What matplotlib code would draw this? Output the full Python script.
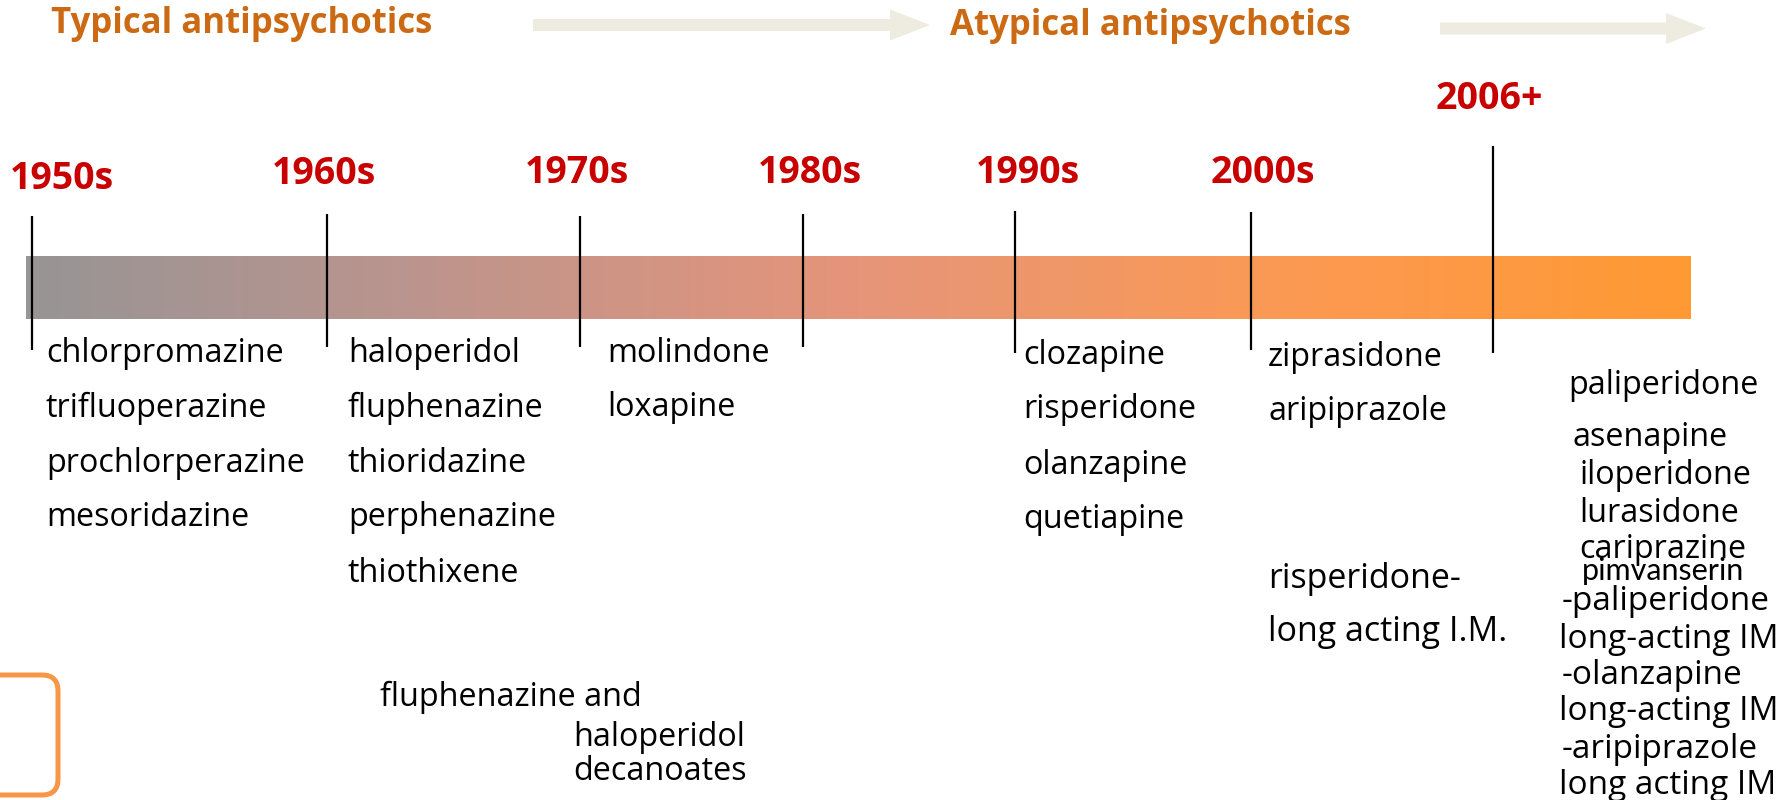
"""
Timeline of antipsychotic drug introductions, typical -> atypical.
"""
import matplotlib
matplotlib.use("Agg")
import matplotlib.pyplot as plt
import numpy as np
from matplotlib.colors import LinearSegmentedColormap
from matplotlib.patches import FancyArrow, FancyBboxPatch

W, H = 1786, 800

# ---- data -----------------------------------------------------------------
CLASSES = ["Typical antipsychotics", "Atypical antipsychotics"]
ERAS = ["1950s", "1960s", "1970s", "1980s", "1990s", "2000s", "2006+"]

DRUGS_1950 = ["chlorpromazine", "trifluoperazine", "prochlorperazine", "mesoridazine"]
DRUGS_1960 = ["haloperidol", "fluphenazine", "thioridazine", "perphenazine", "thiothixene"]
DRUGS_1970 = ["molindone", "loxapine"]
DRUGS_1990 = ["clozapine", "risperidone", "olanzapine", "quetiapine"]
DRUGS_2000 = ["ziprasidone", "aripiprazole"]
DRUGS_2006 = ["paliperidone", "asenapine", "iloperidone", "lurasidone", "cariprazine"]
EXTRA_2006 = "pimvanserin"

DEPOT_1960 = ["fluphenazine and", "haloperidol", "decanoates"]
DEPOT_2000 = ["risperidone-", "long acting I.M."]
DEPOT_2006 = ["-paliperidone", "long-acting IM", "-olanzapine",
              "long-acting IM", "-aripiprazole", "long acting IM"]

# ---- layout (pixels, y down) -----------------------------------------------
ERA_X = [32, 327, 580, 803, 1015, 1251, 1493]
ERA_TOP = [216, 214, 216, 214, 211, 212, 146]
ERA_BOT = [350, 347, 347, 347, 353, 350, 353]
ERA_LABEL = [(10, 179), (272, 174), (525, 173), (758, 173), (976, 173), (1211, 173), (1436, 99)]

BAR_X0, BAR_X1, BAR_Y0, BAR_Y1 = 26, 1691, 256, 319
BAR_STOPS = [(0.0, "#979595"), (0.225, "#BB948E"), (0.5, "#E6957A"),
             (0.77, "#FC9A52"), (1.0, "#FF9933")]

ORANGE_TXT = "#CC6A14"
RED = "#C80000"
ARROW = "#EEEBE0"

BODY = "Open Sans"
BODY_SIZE = 23.3

fig = plt.figure(figsize=(W / 100, H / 100), dpi=100)
ax = fig.add_axes([0, 0, 1, 1])
ax.set_xlim(0, W)
ax.set_ylim(H, 0)
ax.axis("off")

# headers + arrows
ax.text(51, 24, CLASSES[0], fontsize=25, fontweight="bold", color=ORANGE_TXT,
        family=BODY, va="center", ha="left")
ax.text(950, 26, CLASSES[1], fontsize=25, fontweight="bold", color=ORANGE_TXT,
        family=BODY, va="center", ha="left")
for x0, x1, y in [(533, 930, 25), (1440, 1706, 28.5)]:
    ax.add_patch(FancyArrow(x0, y, x1 - x0, 0, width=12, head_width=31, head_length=40,
                            length_includes_head=True, color=ARROW, lw=0))

# gradient bar
cmap = LinearSegmentedColormap.from_list("era", BAR_STOPS)
grad = np.linspace(0, 1, 512)[None, :]
ax.imshow(grad, cmap=cmap, extent=(BAR_X0, BAR_X1, BAR_Y1, BAR_Y0),
          aspect="auto", interpolation="bilinear", zorder=1)

# era ticks and labels
ax.vlines(ERA_X, ERA_TOP, ERA_BOT, color="black", lw=1.6, zorder=3)
for lab, (x, y) in zip(ERAS, ERA_LABEL):
    ax.text(x, y, lab, fontsize=27, fontweight="bold", color=RED, family=BODY,
            va="center", ha="left")


def column(names, x, y0, step, size=BODY_SIZE):
    for i, n in enumerate(names):
        ax.text(x, y0 + i * step, n, fontsize=size, family=BODY, color="black",
                va="center", ha="left")


column(DRUGS_1950, 46, 353, 55)
column(DRUGS_1960, 348, 353, 55)
column(DRUGS_1970, 607, 353, 55)
column(DRUGS_1990, 1023, 355, 55)
column(DRUGS_2000, 1268, 358, 54)

for n, x, y in zip(DRUGS_2006, [1568, 1573, 1579, 1579, 1579], [385, 437, 476, 514, 550]):
    ax.text(x, y, n, fontsize=BODY_SIZE, family=BODY, va="center", ha="left")
ax.text(1582, 571, EXTRA_2006, fontsize=22, family="Lato", va="center", ha="left")

for n, x, y in zip(DEPOT_1960, [380, 573, 573], [697, 737, 772]):
    ax.text(x, y, n, fontsize=BODY_SIZE, family=BODY, va="center", ha="left")
for n, y in zip(DEPOT_2000, [579, 632]):
    ax.text(1268, y, n, fontsize=24.5, family=BODY, va="center", ha="left")
for n, x, y in zip(DEPOT_2006, [1562, 1559] * 3, [601, 640, 675, 712, 749, 786]):
    ax.text(x, y, n, fontsize=24, family=BODY, va="center", ha="left")

# partial rounded box at lower left
ax.add_patch(FancyBboxPatch((-60, 675), 118, 120, boxstyle="round,pad=0,rounding_size=16",
                            fc="none", ec="#F79646", lw=3.6, zorder=2))

fig.savefig("out.png", dpi=100)
plt.close(fig)
